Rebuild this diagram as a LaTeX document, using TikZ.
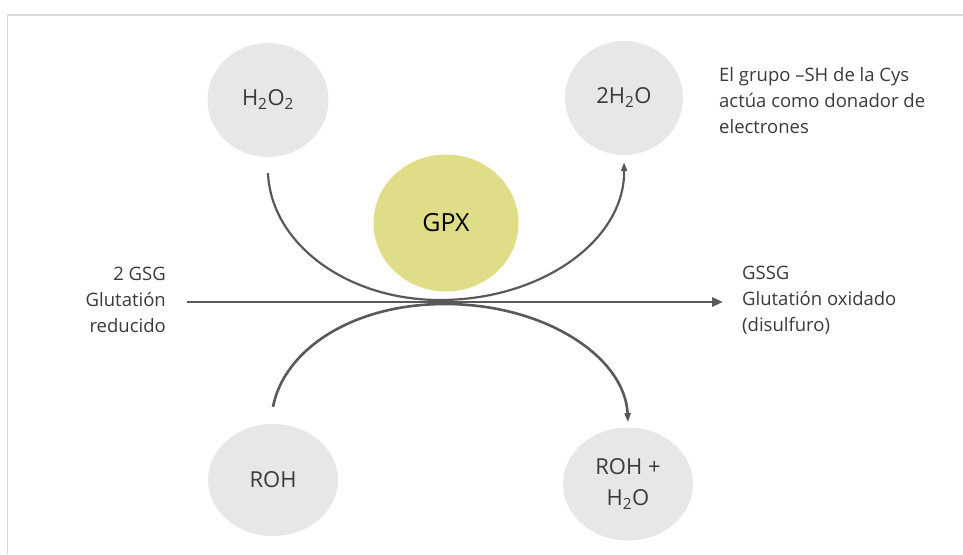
\documentclass[tikz,border=0pt]{standalone}
\usepackage{fontspec}
\setmainfont{Open Sans}
\usetikzlibrary{shapes.geometric,arrows.meta}
\definecolor{framec}{HTML}{D9D9D9}
\definecolor{bubble}{HTML}{E7E7E7}
\definecolor{gpxc}{HTML}{DFDD87}
\definecolor{linec}{HTML}{595959}
\definecolor{txt}{HTML}{3A3A3A}
\tikzset{
  bub/.style={ellipse, fill=bubble, draw=none, inner sep=0pt, text=txt,
    font=\fontsize{22}{32}\selectfont, align=center},
  side/.style={inner sep=0pt, text=txt, font=\fontsize{18.5}{26}\selectfont},
  flow/.style={draw=linec, line width=2.8pt, -{Triangle[length=11pt,width=9pt]}},
  arcline/.style={draw=linec, line width=2.2pt, -{Triangle[length=9pt,width=6pt]}},
}
\begin{document}
\begin{tikzpicture}[x=1pt,y=-1pt]
\useasboundingbox (0,0) rectangle (963,554);
\draw[framec, line width=1.5pt] (7.5,554) -- (7.5,15) -- (963,15);

\node[bub, minimum width=121pt, minimum height=114pt] (h2o2) at (268,100) {H\textsubscript{2}O\textsubscript{2}};
\node[bub, minimum width=118pt, minimum height=114pt] (h2o) at (624,98) {2H\textsubscript{2}O};
\node[ellipse, fill=gpxc, inner sep=0pt, minimum width=145pt, minimum height=137pt,
  text=black, font=\fontsize{25}{28}\selectfont] (gpx) at (446,223) {GPX};
\node[bub, minimum width=130pt, minimum height=112pt] (roh) at (273,480) {ROH};
\node[bub, minimum width=130pt, minimum height=113pt] (rohh2o) at (628,484) {ROH +\\[-1pt]H\textsubscript{2}O};

\node[side, anchor=east, align=right] (gsg) at (166,300) {2 GSG\\Glutatión\\reducido};
\node[side, anchor=west, align=left] (gssg) at (742,300) {GSSG\\Glutatión oxidado\\(disulfuro)};
\node[side, anchor=west, align=left] (note) at (719,101) {El grupo –SH de la Cys\\actúa como donador de\\electrones};

\coordinate (lin) at (187,302);
\coordinate (lout) at (723,302);
\draw[flow] (lin) -- (lout);

% upper arc: H2O2 -> 2H2O
\draw[arcline] ([yshift=-16pt]h2o2.south) .. controls (271,243) and (346,300) .. (440,300)
  .. controls (542,300) and (625,240) .. ([yshift=-7pt]h2o.south);
% lower arc: ROH -> ROH + H2O
\draw[arcline, line width=2.6pt] ([yshift=17pt]roh.north) .. controls (284,350) and (352,304) .. (445,304)
  .. controls (545,304) and (625,357) .. ([yshift=5pt]rohh2o.north);
\end{tikzpicture}
\end{document}
